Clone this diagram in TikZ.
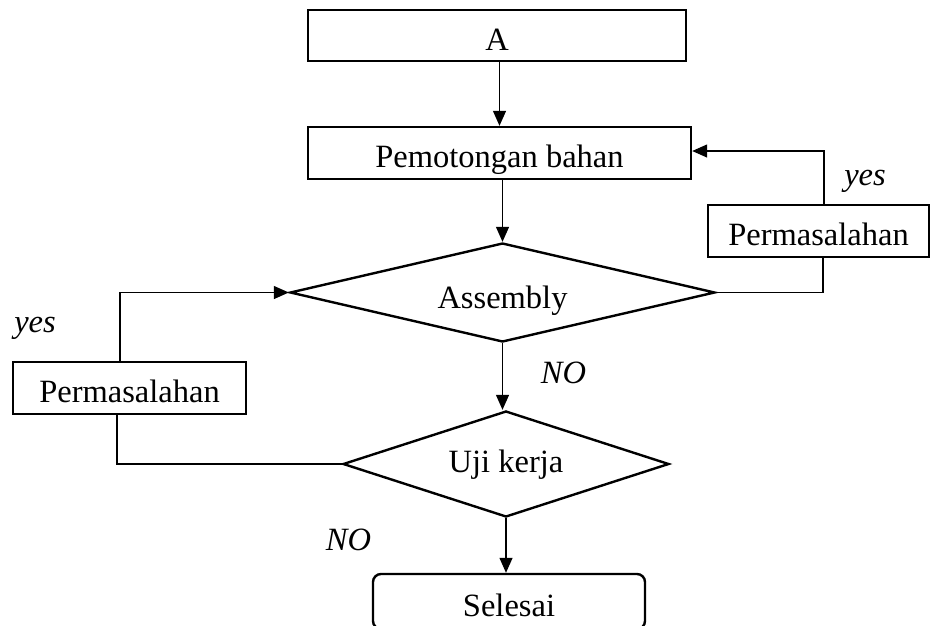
\documentclass[tikz,border=0pt]{standalone}
\usepackage{fontspec}
\setmainfont{Liberation Serif}
\usetikzlibrary{shapes.geometric,arrows.meta}
\begin{document}
\begin{tikzpicture}[x=1pt,y=-1pt,
  txt/.style={font=\fontsize{32.5}{38}\selectfont, inner sep=0pt},
  box/.style={txt, draw, line width=2.4pt, text height=29pt, text depth=0pt},
  dec/.style={txt, draw, line width=2.4pt, diamond, shape aspect=4.5, text depth=0pt},
  conn/.style={line width=1.3pt},
  arr/.style={conn, -{Triangle[length=15pt,width=13pt]}},
  lbl/.style={txt, font=\fontsize{32.5}{38}\selectfont\itshape, anchor=base}]
\useasboundingbox (0,0) rectangle (932,625);
\clip (0,0) rectangle (932,625);

\node[box, minimum width=378pt, minimum height=51pt] (A) at (497,35.5) {A};
\node[box, minimum width=383pt, minimum height=52pt] (P) at (499.5,153) {Pemotongan bahan};
\node[dec, text height=31pt, minimum width=425pt, minimum height=99pt] (As) at (502.5,292.5) {Assembly};
\node[box, minimum width=221pt, minimum height=52pt] (R) at (818.5,231) {Permasalahan};
\node[box, minimum width=233pt, minimum height=52pt] (L) at (129.5,388) {Permasalahan};
\node[dec, text height=17pt, minimum width=326pt, minimum height=106pt] (U) at (506,464) {Uji kerja};
\node[box, rounded corners=8pt, minimum width=272pt, minimum height=55pt] (S) at (509,601.5) {Selesai};

\node[lbl] (y1) at (865,185) {yes};
\node[lbl] (y2) at (35,332) {yes};
\node[lbl] (n1) at (563.5,383) {NO};
\node[lbl] (n2) at (348.5,550) {NO};

\draw[arr] (A.south -| P.north) -- (P.north);
\draw[arr] (P.south -| As.north) -- (As.north);
\draw[arr] (As.south) -- (As.south |- U.north);
\draw[arr] (U.south) -- (U.south |- S.north);

\draw[conn] (As.east) -| ([xshift=4.5pt]R.south);
\draw[arr] ([xshift=5.5pt]R.north) |- ([yshift=2pt]P.east);

\draw[conn] (U.west) -| ([xshift=-12.5pt]L.south);
\draw[arr] ([xshift=-9.5pt]L.north) |- (As.west);
\end{tikzpicture}
\end{document}
